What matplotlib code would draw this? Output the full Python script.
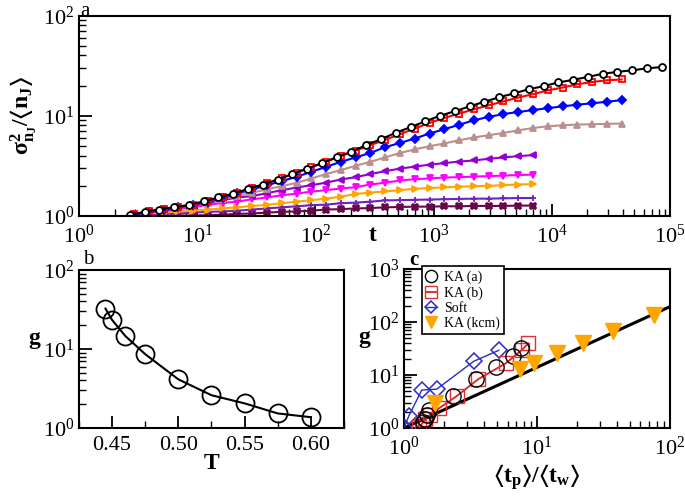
import numpy as np
import matplotlib
matplotlib.use('Agg')
import matplotlib.pyplot as plt
from matplotlib.ticker import LogLocator, MultipleLocator, NullFormatter

plt.rcParams['font.family'] = ['Liberation Serif', 'DejaVu Serif']
plt.rcParams['mathtext.fontset'] = 'custom'
plt.rcParams['mathtext.rm'] = 'Liberation Serif'
plt.rcParams['mathtext.it'] = 'Liberation Serif:italic'
plt.rcParams['mathtext.bf'] = 'Liberation Serif:bold'
plt.rcParams['mathtext.fallback'] = 'stix'
plt.rcParams['mathtext.default'] = 'regular'
plt.rcParams['xtick.direction'] = 'in'
plt.rcParams['ytick.direction'] = 'in'

# ---- panel a: sigma^2 / <n_J> vs t ----
t_black = [2.69, 3.59, 4.79, 6.38, 8.51, 11.4, 15.1, 20.2, 26.9, 35.9, 47.9, 63.8,
           85.1, 114, 151, 202, 269, 359, 479, 638, 851, 1135, 1514, 2018, 2692,
           3589, 4786, 6383, 8511, 11350, 15140, 20180, 26920, 35890, 47860, 63830, 85110]
t_other = [2.92, 3.90, 5.20, 6.93, 9.24, 12.3, 16.4, 21.9, 29.2, 39.0, 52.0, 69.3,
           92.4, 123, 164, 219, 292, 390, 520, 693, 924, 1232, 1643, 2191, 2922,
           3897, 5197, 6930, 9242, 12320, 16430, 21910, 29220, 38970]

sig_black = [1.02, 1.10, 1.16, 1.22, 1.29, 1.40, 1.53, 1.67, 1.86, 2.06, 2.31, 2.62,
             2.97, 3.37, 3.86, 4.38, 5.09, 5.84, 6.77, 7.69, 8.81, 10.0, 11.1, 12.4,
             13.8, 15.3, 16.7, 18.4, 19.7, 21.5, 22.8, 24.4, 26.2, 27.4, 28.4, 29.7, 30.6]
sig_red = [1.05, 1.11, 1.17, 1.23, 1.30, 1.41, 1.56, 1.71, 1.90, 2.13, 2.39, 2.71,
           3.07, 3.48, 3.95, 4.48, 5.09, 5.77, 6.55, 7.46, 8.48, 9.51, 10.5, 11.6,
           12.7, 13.9, 15.2, 16.4, 17.9, 19.1, 20.6, 21.7, 22.6, 23.0]
sig_blue = [1.03, 1.10, 1.15, 1.22, 1.29, 1.38, 1.51, 1.68, 1.84, 2.03, 2.23, 2.46,
            2.76, 3.09, 3.47, 3.84, 4.26, 4.86, 5.36, 5.93, 6.65, 7.34, 8.13, 9.02,
            9.73, 10.4, 10.9, 11.4, 11.9, 12.4, 12.9, 13.3, 13.8, 14.3]
sig_brown = [1.03, 1.10, 1.15, 1.20, 1.27, 1.36, 1.48, 1.58, 1.71, 1.84, 1.99, 2.14,
             2.37, 2.62, 2.87, 3.17, 3.47, 3.85, 4.25, 4.62, 4.97, 5.29, 5.70, 6.07,
             6.40, 6.74, 7.15, 7.55, 7.85, 8.04, 8.17, 8.23, 8.30, 8.36]
sig_violet = [1.03, 1.10, 1.15, 1.20, 1.27, 1.35, 1.44, 1.53, 1.58, 1.69, 1.81, 1.92,
              2.03, 2.15, 2.31, 2.44, 2.62, 2.80, 2.97, 3.11, 3.25, 3.37, 3.49, 3.58,
              3.72, 3.84, 3.95, 4.05]
sig_magenta = [1.03, 1.08, 1.12, 1.17, 1.23, 1.29, 1.35, 1.39, 1.47, 1.53, 1.61, 1.67,
               1.75, 1.81, 1.88, 1.94, 2.06, 2.15, 2.26, 2.33, 2.37, 2.42, 2.44, 2.47,
               2.50, 2.53, 2.56, 2.59]
sig_orange = [1.03, 1.06, 1.08, 1.11, 1.13, 1.16, 1.19, 1.22, 1.26, 1.29, 1.34, 1.39,
              1.44, 1.49, 1.56, 1.66, 1.71, 1.76, 1.81, 1.87, 1.90, 1.93, 1.96, 1.98,
              2.00, 2.03, 2.06, 2.08]
sig_indigo = [1.02, 1.03, 1.05, 1.06, 1.08, 1.10, 1.11, 1.13, 1.16, 1.19, 1.22, 1.25,
              1.28, 1.30, 1.34, 1.36, 1.39, 1.43, 1.44, 1.45, 1.46, 1.47, 1.48, 1.49,
              1.49, 1.50, 1.51, 1.51]
sig_maroon = [1.00, 1.00, 1.00, 1.01, 1.01, 1.02, 1.03, 1.05, 1.06, 1.08, 1.10, 1.11,
              1.13, 1.16, 1.17, 1.19, 1.20, 1.22, 1.23, 1.24, 1.24, 1.25, 1.25, 1.26,
              1.26, 1.26, 1.27, 1.27]

# ---- panel b: g vs T ----
temps = [0.445, 0.45, 0.46, 0.475, 0.50, 0.525, 0.55, 0.575, 0.60]
g_temp = [32.5, 23.3, 14.6, 8.6, 4.13, 2.6, 2.05, 1.53, 1.37]

# ---- panel c: g vs <t_p>/<t_w> ----
ka_a_x = [7.54, 6.63, 4.92, 3.48, 2.35, 1.54, 1.49, 1.43, 1.38]
ka_a_g = [31.9, 22.5, 14.3, 8.4, 4.0, 2.2, 1.75, 1.5, 1.31]
ka_b_x = [8.6, 7.67, 5.82, 3.63, 2.49, 1.83, 1.57, 1.44, 1.36, 1.30]
ka_b_g = [39.3, 29.6, 16.6, 8.4, 4.0, 2.35, 1.76, 1.46, 1.19, 1.05]
soft_x = [1.0, 1.09, 1.36, 1.76, 3.34, 5.16]
soft_g = [1.0, 1.72, 5.2, 5.4, 18.1, 29.2]
kcm_x = [1.71, 7.4, 9.55, 14.1, 22.1, 37.1, 76.0]
kcm_g = [3.0, 12.8, 16.6, 25.7, 39.6, 67.6, 135]
line_x = [1.0, 100.0]
line_g = [1.0, 195.0]

fig = plt.figure(figsize=(6.85, 4.97), dpi=100)

def style_axis(ax, fs=16):
    for s in ax.spines.values():
        s.set_linewidth(1.5)
    ax.tick_params(which='major', length=9, width=1.3, labelsize=fs)
    ax.tick_params(which='minor', length=5, width=1.0)
    ax.tick_params(axis='x', which='major', pad=6)
    ax.tick_params(top=False, right=False, which='both')

# panel a
ax1 = fig.add_axes([0.1153, 0.5654, 0.8628, 0.4034])
series = [
    (t_black, sig_black, 'black', 'o', 'white'),
    (t_other, sig_red, 'red', 's', 'none'),
    (t_other, sig_blue, 'blue', 'D', 'blue'),
    (t_other, sig_brown, '#bc8f8f', '^', '#bc8f8f'),
    (t_other, sig_violet, '#9400d3', '<', '#9400d3'),
    (t_other, sig_magenta, '#ff00ff', 'v', '#ff00ff'),
    (t_other, sig_orange, '#ffa500', '>', '#ffa500'),
    (t_other, sig_indigo, '#7221bc', '+', '#7221bc'),
    (t_other, sig_maroon, '#670748', 'X', '#670748'),
]
for tt, yy, col, mk, fc in reversed(series):
    ax1.plot(tt[:len(yy)], yy, color=col, marker=mk, markersize=5 if mk != 'D' else 4.2,
             markerfacecolor=fc, markeredgecolor=col, markeredgewidth=1.3, linewidth=1.5)
ax1.set_xscale('log')
ax1.set_yscale('log')
ax1.set_xlim(1, 1e5)
ax1.set_ylim(1, 100)
ax1.xaxis.set_minor_locator(LogLocator(base=10, subs=np.arange(2, 10)))
ax1.yaxis.set_minor_locator(LogLocator(base=10, subs=np.arange(2, 10)))
ax1.xaxis.set_minor_formatter(NullFormatter())
ax1.yaxis.set_minor_formatter(NullFormatter())
style_axis(ax1)
ax1.set_xlabel('t', fontsize=17, fontweight='bold')
ax1.xaxis.set_label_coords(0.497, -0.045)
ax1.set_ylabel(r'$\mathbf{\sigma^2_{n_J}/\langle n_J\rangle}$', fontsize=17, labelpad=2)
fig.text(0.117, 0.995, 'a', fontsize=15, va='top', ha='left')

# panel b
ax2 = fig.add_axes([0.1153, 0.1388, 0.3869, 0.3179])
ax2.plot(temps, g_temp, color='black', linewidth=1.5, marker='o', markersize=13,
         markerfacecolor='none', markeredgecolor='black', markeredgewidth=1.3)
ax2.set_yscale('log')
ax2.set_xlim(0.425, 0.625)
ax2.set_ylim(1, 100)
ax2.xaxis.set_major_locator(MultipleLocator(0.05))
ax2.xaxis.set_minor_locator(MultipleLocator(0.025))
ax2.xaxis.set_major_formatter(plt.FormatStrFormatter('%.2f'))
ax2.yaxis.set_minor_locator(LogLocator(base=10, subs=np.arange(2, 10)))
ax2.yaxis.set_minor_formatter(NullFormatter())
style_axis(ax2)
ax2.set_xlabel('T', fontsize=17, fontweight='bold', labelpad=-2)
ax2.set_ylabel('g', fontsize=17, fontweight='bold', rotation=0, labelpad=10)
ax2.yaxis.set_label_coords(-0.17, 0.5)
fig.text(0.121, 0.497, 'b', fontsize=15, va='top', ha='left')

# panel c
ax3 = fig.add_axes([0.5898, 0.1388, 0.3883, 0.32])
ax3.plot(line_x, line_g, color='black', linewidth=2.2, zorder=2)
ax3.plot(soft_x, soft_g, color='#2a2ac8', linewidth=1.0, marker='D', markersize=8,
         markerfacecolor='none', markeredgecolor='#2a2ac8', markeredgewidth=1.1,
         label='Soft', zorder=3)
ax3.plot(ka_b_x, ka_b_g, color='#e02020', linewidth=1.3, marker='s', markersize=10,
         markerfacecolor='none', markeredgecolor='#e03030', markeredgewidth=1.0,
         label='KA (b)', zorder=3)
ax3.plot(ka_a_x, ka_a_g, linestyle='none', marker='o', markersize=11,
         markerfacecolor='none', markeredgecolor='black', markeredgewidth=1.0,
         label='KA (a)', zorder=4)
ax3.plot(kcm_x, kcm_g, linestyle='none', marker='v', markersize=11,
         color='#ffa500', markeredgecolor='#ffa500', label='KA (kcm)', zorder=5)
ax3.set_xscale('log')
ax3.set_yscale('log')
ax3.set_xlim(1, 100)
ax3.set_ylim(1, 1000)
ax3.xaxis.set_minor_locator(LogLocator(base=10, subs=np.arange(2, 10)))
ax3.yaxis.set_minor_locator(LogLocator(base=10, subs=np.arange(2, 10)))
ax3.xaxis.set_minor_formatter(NullFormatter())
ax3.yaxis.set_minor_formatter(NullFormatter())
style_axis(ax3)
ax3.set_xlabel(r'$\mathbf{\langle t_p\rangle/\langle t_w\rangle}$', fontsize=17, labelpad=2)
ax3.set_ylabel('g', fontsize=17, fontweight='bold', rotation=0)
ax3.yaxis.set_label_coords(-0.15, 0.5)
handles, labels = ax3.get_legend_handles_labels()
order = [labels.index(k) for k in ['KA (a)', 'KA (b)', 'Soft', 'KA (kcm)']]
leg = ax3.legend([handles[i] for i in order], [labels[i] for i in order],
                 loc='upper left', bbox_to_anchor=(0.04, 1.06), fontsize=10,
                 frameon=True, fancybox=False, edgecolor='black', framealpha=1,
                 handlelength=0.8, handletextpad=0.5, borderpad=0.3,
                 labelspacing=0.15, markerscale=0.8)
leg.get_frame().set_linewidth(1.2)
fig.text(0.598, 0.497, 'c', fontsize=15, fontweight='bold', va='top', ha='left')

fig.savefig('out.png', dpi=100)
